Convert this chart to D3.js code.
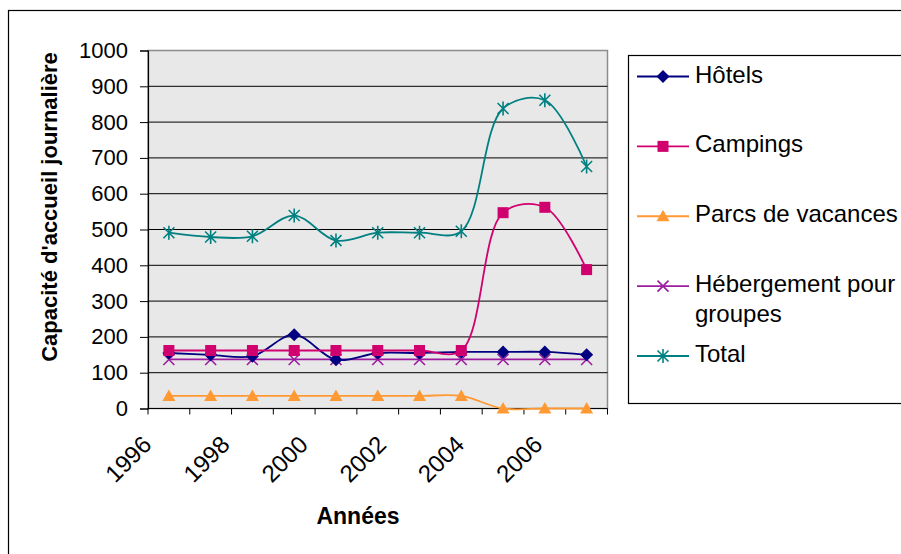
<!DOCTYPE html>
<html>
<head>
<meta charset="utf-8">
<script src="https://cdn.jsdelivr.net/npm/d3@7"></script>
<style>
body { margin: 0; background: #fff; }
svg { display: block; font-family: "Liberation Sans", Arial, sans-serif; }
</style>
</head>
<body>
<script>
// data
var years = ["1996","1997","1998","1999","2000","2001","2002","2003","2004","2005","2006"];
var labelYears = ["1996","1998","2000","2002","2004","2006"];
var yTicks = [0,100,200,300,400,500,600,700,800,900,1000];

var hotels   = [155,150,146,206,136,155,155,158,158,158,150];
var campings = [162,162,162,162,162,162,162,162,547,562,388];
var parcs    = [35,35,35,35,35,35,35,35,0,0,0];
var groupes  = [137,137,137,137,137,137,137,137,137,137,137];
var total    = [491,479,481,539,469,491,491,495,838,861,676];

var seriesNames = ["Hôtels","Campings","Parcs de vacances","Hébergement pour groupes","Total"];
var seriesColors = ["#000080","#d0006f","#ff9933","#9c1ca0","#008080"];
var seriesMarkers = ["diamond","square","triangle","cross","star"];
var seriesValues = [hotels, campings, parcs, groupes, total];

var width = 901, height = 554;
var svg = d3.select("body").append("svg").attr("width", width).attr("height", height);

// outer border (runs off the picture right and bottom)
svg.append("rect").attr("x", 8.5).attr("y", 10.5).attr("width", 1000).attr("height", 1000)
    .style("fill", "none").style("stroke", "#000").style("stroke-width", 1.2);

var plot = {left: 148, right: 607.5, top: 50.5, bottom: 408.5};

var x = d3.scaleBand().domain(years).range([plot.left, plot.right]);
var y = d3.scaleLinear().domain([0, 1000]).range([plot.bottom, plot.top]);
function cx(i) { return x(years[i]) + x.bandwidth() / 2; }

// plot background
svg.append("rect").attr("x", plot.left).attr("y", plot.top)
    .attr("width", plot.right - plot.left).attr("height", plot.bottom - plot.top)
    .style("fill", "#e8e8e8").style("stroke", "#8c8c8c").style("stroke-width", 1.5);

// gridlines
svg.selectAll("line.grid").data(yTicks.filter(function(d){return d > 0 && d < 1000;}))
    .enter().append("line").attr("class", "grid")
    .attr("x1", plot.left).attr("x2", plot.right)
    .attr("y1", function(d){return y(d);}).attr("y2", function(d){return y(d);})
    .style("stroke", "#000").style("stroke-width", 1);

// y axis
var yAxis = svg.append("g").attr("transform", "translate(" + plot.left + ",0)")
    .call(d3.axisLeft(y).tickValues(yTicks).tickSize(8).tickPadding(12).tickFormat(d3.format("d")));
yAxis.selectAll("text").style("font-size", "22px").style("fill", "#000")
    .style("font-family", "'Liberation Sans', Arial, sans-serif");
yAxis.selectAll("line").style("stroke", "#000");
yAxis.select(".domain").style("stroke", "#000").style("stroke-width", 1.2);

// x axis line + tick marks at category boundaries
var xTickPos = d3.range(years.length + 1).map(function(i){ return plot.left + i * x.step(); });
svg.append("line").attr("x1", plot.left).attr("x2", plot.right)
    .attr("y1", plot.bottom).attr("y2", plot.bottom).style("stroke", "#000").style("stroke-width", 1.2);
svg.selectAll("line.xtick").data(xTickPos).enter().append("line").attr("class", "xtick")
    .attr("x1", function(d){return d;}).attr("x2", function(d){return d;})
    .attr("y1", plot.bottom).attr("y2", plot.bottom + 6).style("stroke", "#000");

// x labels (every other year, rotated)
var xl = d3.scalePoint().domain(labelYears).range([153, 544]);
svg.selectAll("text.xlab").data(labelYears).enter().append("text").attr("class", "xlab")
    .attr("transform", function(d){ return "translate(" + xl(d) + "," + 446 + ") rotate(-45)"; })
    .attr("text-anchor", "end").style("font-size", "24px").text(function(d){return d;});

// axis titles
svg.append("text").attr("x", 358).attr("y", 524).attr("text-anchor", "middle")
    .style("font-size", "23px").style("font-weight", "bold").text("Années");
svg.append("text").attr("transform", "translate(57,207) rotate(-90)").attr("text-anchor", "middle")
    .style("font-size", "22px").style("font-weight", "bold").text("Capacité d'accueil journalière");

// markers
function drawMarker(g, type, color) {
    if (type === "diamond") {
        g.append("path").attr("d", "M0,-6.5L6.5,0L0,6.5L-6.5,0Z").style("fill", color);
    } else if (type === "square") {
        g.append("rect").attr("x", -5.5).attr("y", -5.5).attr("width", 11).attr("height", 11).style("fill", color);
    } else if (type === "triangle") {
        g.append("path").attr("d", "M0,-6.5L6.5,5L-6.5,5Z").style("fill", color);
    } else if (type === "cross") {
        g.append("path").attr("d", "M-5.5,-5.5L5.5,5.5M-5.5,5.5L5.5,-5.5")
            .style("stroke", color).style("stroke-width", 1.6).style("fill", "none");
    } else {
        g.append("path").attr("d", "M-5.5,-5.5L5.5,5.5M-5.5,5.5L5.5,-5.5M0,-7L0,7")
            .style("stroke", color).style("stroke-width", 1.6).style("fill", "none");
    }
}

var line = d3.line().x(function(d, i){return cx(i);}).y(function(d){return y(d);})
    .curve(d3.curveCatmullRom.alpha(0.5));

// draw order: hébergement and parcs under, total on top
var order = [3, 2, 0, 1, 4];
order.forEach(function(k) {
    var vals = seriesValues[k];
    svg.append("path").datum(vals).attr("d", line)
        .style("fill", "none").style("stroke", seriesColors[k]).style("stroke-width", 1.8);
    vals.forEach(function(v, i) {
        var g = svg.append("g").attr("transform", "translate(" + cx(i) + "," + y(v) + ")");
        drawMarker(g, seriesMarkers[k], seriesColors[k]);
    });
});

// legend
svg.append("rect").attr("x", 628.5).attr("y", 55.5).attr("width", 400).attr("height", 348)
    .style("fill", "#fff").style("stroke", "#000").style("stroke-width", 1.2);
var legY = d3.scaleLinear().domain([0, 4]).range([76.5, 356]);
seriesNames.forEach(function(name, k) {
    var ly = legY(k);
    svg.append("line").attr("x1", 637).attr("x2", 689).attr("y1", ly).attr("y2", ly)
        .style("stroke", seriesColors[k]).style("stroke-width", 1.8);
    var g = svg.append("g").attr("transform", "translate(663," + ly + ")");
    drawMarker(g, seriesMarkers[k], seriesColors[k]);
    var t = svg.append("text").attr("x", 695).attr("y", ly + 6).style("font-size", "24px");
    if (name === "Hébergement pour groupes") {
        t.append("tspan").attr("x", 695).text("Hébergement pour");
        t.append("tspan").attr("x", 695).attr("dy", 30).text("groupes");
    } else {
        t.text(name);
    }
});
</script>
</body>
</html>
